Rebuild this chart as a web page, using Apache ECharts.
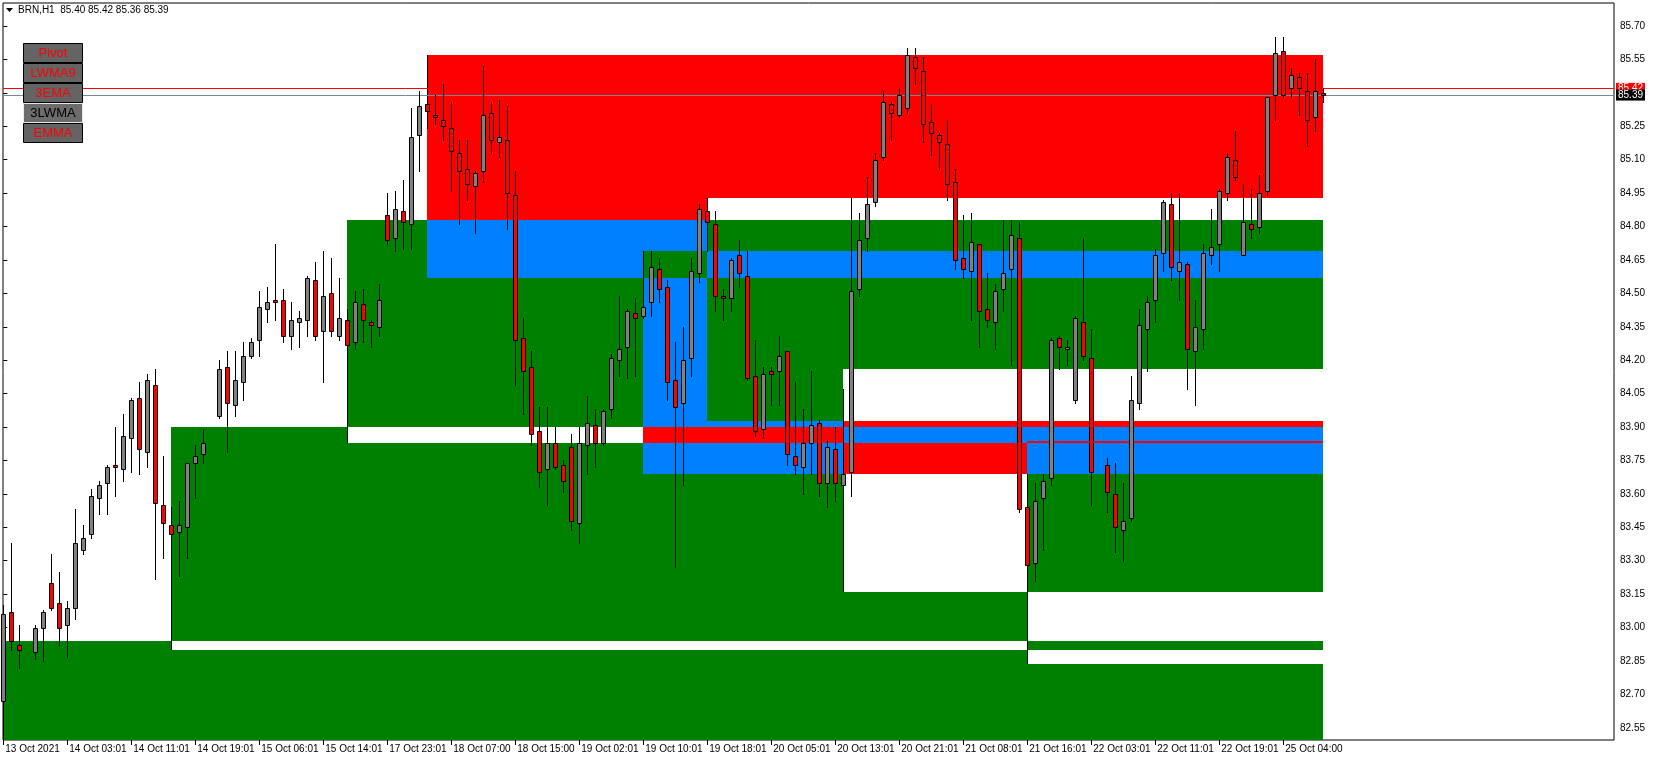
<!DOCTYPE html>
<html><head><meta charset="utf-8">
<script src="https://cdn.jsdelivr.net/npm/echarts@6/dist/echarts.min.js"></script>
<style>html,body{margin:0;padding:0;background:#fff}#c{width:1654px;height:761px}</style>
</head><body><div id="c"></div>
<script>
// ---- tick labels ----
const timeLabels = ["13 Oct 2021","14 Oct 03:01","14 Oct 11:01","14 Oct 19:01","15 Oct 06:01","15 Oct 14:01","17 Oct 23:01","18 Oct 07:00","18 Oct 15:00","19 Oct 02:01","19 Oct 10:01","19 Oct 18:01","20 Oct 05:01","20 Oct 13:01","20 Oct 21:01","21 Oct 08:01","21 Oct 16:01","22 Oct 03:01","22 Oct 11:01","22 Oct 19:01","25 Oct 04:00"];
const labelBars = [0,8,16,24,32,40,48,56,64,72,80,88,96,104,112,120,128,136,144,152,160];
const priceTicks = [82.55,82.70,82.85,83.00,83.15,83.30,83.45,83.60,83.75,83.90,84.05,84.20,84.35,84.50,84.65,84.80,84.95,85.10,85.25,85.40,85.55,85.70];

// ---- candles (H1 BRN), null = no visible bar ----
const opens = [82.67,83.07,82.92,null,82.89,83.00,83.20,83.11,83.01,83.09,83.35,83.42,83.58,83.65,83.73,83.71,83.85,84.03,83.79,84.09,83.55,83.46,83.43,83.45,83.74,83.78,null,83.95,84.17,84.00,84.10,84.22,84.29,84.43,84.47,84.47,84.31,84.37,84.38,84.56,84.33,84.50,84.31,84.38,84.28,84.45,84.37,84.35,84.85,84.75,84.87,84.81,85.21,85.35,85.30,85.28,85.24,85.13,85.06,84.98,85.05,85.31,85.18,85.19,84.94,84.30,84.17,83.88,83.71,83.83,83.73,83.81,83.47,83.82,83.91,83.83,83.98,84.20,84.26,84.41,84.40,84.46,84.61,84.53,84.11,84.01,84.21,84.59,84.87,84.81,84.49,84.48,84.67,84.58,84.13,83.89,84.15,84.15,84.24,83.77,83.72,83.83,83.92,83.65,83.80,83.64,83.70,84.52,84.75,84.91,85.11,85.35,85.30,85.33,85.56,85.50,85.27,85.21,85.17,85.00,84.66,84.60,84.72,84.43,84.37,84.52,84.61,84.75,83.54,83.29,83.58,83.67,84.30,84.25,84.02,84.37,84.21,null,83.73,83.60,83.44,83.49,84.01,84.34,84.47,84.68,84.90,84.60,84.63,84.24,84.34,84.67,84.72,84.95,85.10,84.67,84.81,84.80,84.96,85.39,85.59,85.42,85.47,85.41,85.29,85.40];
const highs = [83.10,83.38,83.01,null,83.01,83.08,83.33,83.25,83.12,83.53,83.46,83.62,83.66,83.73,83.90,83.96,84.03,84.10,84.14,84.16,83.77,83.54,83.57,83.74,83.82,83.89,null,84.20,84.24,84.24,84.28,84.30,84.51,84.53,84.72,84.52,84.46,84.42,84.58,84.64,84.69,84.66,84.57,84.43,84.51,84.52,84.38,84.54,84.95,84.96,85.01,85.33,85.41,85.36,85.39,85.44,85.36,85.19,85.19,85.05,85.52,85.36,85.37,85.34,85.05,84.39,84.24,83.99,83.99,83.90,83.75,83.87,83.90,84.04,83.98,83.98,84.23,84.49,84.43,84.48,84.45,84.69,84.66,84.56,84.28,84.35,84.66,84.90,84.90,84.87,84.52,84.66,84.74,84.69,84.29,84.17,84.17,84.31,84.24,84.10,83.98,84.15,83.93,83.84,83.90,84.07,84.93,84.86,85.02,85.13,85.41,85.36,85.42,85.60,85.60,85.56,85.35,85.22,85.28,85.06,84.85,84.86,84.72,84.59,84.54,84.83,84.83,84.82,83.69,83.65,83.69,84.30,84.31,84.29,84.40,84.75,84.34,null,83.76,83.74,83.65,84.13,84.43,84.49,84.70,84.92,84.95,84.95,84.64,84.47,84.72,84.88,84.97,85.13,85.23,84.99,84.97,85.03,85.38,85.65,85.65,85.51,85.49,85.49,85.55,85.42];
const lows = [82.66,82.90,82.82,null,82.86,82.85,83.08,82.92,82.87,83.04,83.33,83.40,83.51,83.51,83.59,83.66,83.70,83.69,83.72,83.22,83.31,83.38,83.23,83.31,83.58,83.74,null,83.94,83.79,83.95,84.02,84.21,84.22,84.37,84.38,84.28,84.25,84.26,84.31,84.29,84.10,84.31,84.29,84.25,84.25,84.28,84.26,84.31,84.72,84.69,84.70,84.70,85.05,85.24,85.26,85.19,84.96,84.81,84.92,84.77,85.00,85.13,85.11,84.79,84.09,83.96,83.82,83.63,83.55,83.71,83.61,83.44,83.38,83.69,83.72,83.82,83.94,84.13,84.12,84.13,84.39,84.40,84.46,84.02,83.27,83.64,84.13,84.55,84.69,84.42,84.38,84.42,84.53,84.11,83.86,83.85,84.00,84.00,83.73,83.69,83.60,83.69,83.59,83.54,83.57,83.63,83.59,84.49,84.69,84.89,85.10,85.19,85.29,85.31,85.44,85.18,85.12,85.06,84.92,84.61,84.57,84.38,84.26,84.35,84.25,84.42,84.18,83.52,83.27,83.21,83.35,83.64,84.16,84.18,84.01,84.20,83.55,null,83.52,83.34,83.30,83.48,83.98,84.15,84.37,84.60,84.56,84.47,84.07,84.00,84.25,84.63,84.60,84.92,85.01,84.67,84.75,84.77,84.94,85.28,85.38,85.38,85.30,85.16,85.23,85.36];
const closes = [83.06,82.94,82.90,null,83.00,83.07,83.09,83.00,83.09,83.38,83.40,83.59,83.64,83.72,83.72,83.86,84.02,83.80,84.11,83.56,83.47,83.42,83.46,83.74,83.77,83.83,null,84.16,84.01,84.11,84.22,84.28,84.44,84.46,84.46,84.31,84.38,84.39,84.57,84.31,84.49,84.33,84.39,84.27,84.46,84.38,84.36,84.47,84.74,84.88,84.82,85.20,85.34,85.32,85.29,85.25,85.14,85.05,84.99,85.04,85.30,85.19,85.20,84.95,84.29,84.15,83.87,83.70,83.83,83.72,83.66,83.48,83.83,83.92,83.83,83.97,84.21,84.25,84.42,84.39,84.44,84.62,84.52,84.10,83.99,84.20,84.60,84.88,84.82,84.49,84.48,84.65,84.59,84.12,83.88,84.14,84.14,84.22,83.78,83.73,83.83,83.91,83.65,83.81,83.65,83.69,84.51,84.74,84.90,85.10,85.36,85.31,85.39,85.57,85.51,85.26,85.22,85.18,84.99,84.65,84.61,84.73,84.42,84.38,84.51,84.59,84.76,83.53,83.28,83.57,83.66,84.29,84.26,84.26,84.39,84.22,83.70,null,83.61,83.45,83.48,84.02,84.36,84.46,84.67,84.91,84.62,84.64,84.25,84.35,84.68,84.71,84.96,85.11,85.02,84.82,84.79,84.95,85.38,85.58,85.39,85.48,85.42,85.28,85.41,85.39];

// ---- supply / demand zones (drawn XOR-style like the terminal) ----
const zoneStart = [0, 21, 43, 53, 80, 88, 105, 128];
const zoneEnd   = [165,165,165,165,165,165,165,165];
const zoneLow   = [82.30, 82.90, 83.828, 84.57, 83.69, 83.927, 83.16, 82.836];
const zoneHigh  = [82.94, 83.90, 84.83, 85.57, 84.69, 84.93, 84.16, 83.838];
const zoneType  = ['G','G','G','R','R','R','G','G'];

const lastBid = 85.39;
const redLevel = 85.42;
const headerText = "BRN,H1  85.40 85.42 85.36 85.39";
const buttonNames = ["Pivot","LWMA9","3EMA","3LWMA","EMMA"];
const buttonActive = [true,true,true,false,true];

// ---------- build ----------
const candleData = [];
for (let i = 0; i < opens.length; i++) {
  if (opens[i] == null) continue;
  candleData.push([i, opens[i], highs[i], lows[i], closes[i]]);
}
const code = {G:1, R:2, B:3};
const colorOf = {1:'#008000', 2:'#ff0000', 3:'#0080ff'};
const xs = [...new Set(zoneStart.concat(zoneEnd))].sort((a,b)=>a-b);
const ys = [...new Set(zoneLow.concat(zoneHigh))].sort((a,b)=>a-b);
const cellData = [];
for (let a = 0; a < xs.length-1; a++) {
  for (let b = 0; b < ys.length-1; b++) {
    const mx = (xs[a]+xs[a+1])/2, my = (ys[b]+ys[b+1])/2;
    let acc = 0;
    for (let z = 0; z < zoneStart.length; z++) {
      if (mx > zoneStart[z] && mx < zoneEnd[z] && my > zoneLow[z] && my < zoneHigh[z]) acc ^= code[zoneType[z]];
    }
    if (acc) cellData.push([xs[a], xs[a+1], ys[b], ys[b+1], acc]);
  }
}
// anchor lines: demand zone -> from candle high down to zone low; supply -> zone high down to candle low
const anchorData = zoneStart.map((s, z) => zoneType[z] === 'G' ? [s, highs[s], zoneLow[z]] : [s, zoneHigh[z], lows[s]]);

const FONT = 'Liberation Sans';
const chart = echarts.init(document.getElementById('c'), null, {renderer:'canvas'});

function clampY(y, cs){ return Math.max(cs.y, Math.min(cs.y+cs.height, y)); }

const buttonGraphics = [];
buttonNames.forEach((n, k) => {
  const y = 43 + k*20;
  buttonGraphics.push({type:'rect', left:23, top:y, z:100, shape:{width:59, height:19},
    style:{fill: buttonActive[k] ? '#646464' : '#6c6c6c', stroke: buttonActive[k] ? '#000' : '#e8e8e8', lineWidth:1}});
  buttonGraphics.push({type:'text', z:101, x:53, y:y+10.5,
    style:{text:n, fill: buttonActive[k] ? '#ff0000' : '#000', font:'13px "'+FONT+'"', align:'center', verticalAlign:'middle'}});
});

chart.setOption({
  animation:false,
  backgroundColor:'#ffffff',
  grid:{left:3, top:3, width:1611, height:737, show:true, borderColor:'#000', borderWidth:1, backgroundColor:'transparent'},
  xAxis:{type:'value', min:-0.0375, max:201.3375,
    axisLine:{show:false}, splitLine:{show:false},
    axisTick:{show:true, customValues:labelBars, length:5, lineStyle:{color:'#000'}},
    axisLabel:{show:true, customValues:labelBars, formatter:(v)=>timeLabels[labelBars.indexOf(Math.round(v))] || '', align:'left', margin:4, padding:[0,0,0,2], color:'#000', fontSize:10, fontFamily:FONT, hideOverlap:false}},
  yAxis:{type:'value', position:'right', min:82.4953, max:85.8032, scale:true,
    axisLine:{show:false}, splitLine:{show:false},
    axisTick:{show:true, customValues:priceTicks, length:4, lineStyle:{color:'#000'}},
    axisLabel:{show:true, customValues:priceTicks, formatter:(v)=>v.toFixed(2), margin:6, color:'#000', fontSize:10, fontFamily:FONT}},
  graphic:[
    {type:'polygon', z:100, shape:{points:[[6,8],[13,8],[9.5,12]]}, style:{fill:'#000'}},
    {type:'text', z:100, x:18, y:10.5, style:{text:headerText, fill:'#000', font:'10px "'+FONT+'"', verticalAlign:'middle'}}
  ].concat(buttonGraphics),
  series:[
    {type:'custom', name:'zones', z:1, silent:true, data:cellData,
      renderItem:(params, api)=>{
        const cs = params.coordSys;
        const p0 = api.coord([api.value(0), api.value(3)]);
        const p1 = api.coord([api.value(1), api.value(2)]);
        const x0 = Math.round(p0[0]), x1 = Math.round(p1[0]);
        const y0 = Math.round(clampY(p0[1], cs)), y1 = Math.round(clampY(p1[1], cs));
        return {type:'rect', shape:{x:x0, y:y0, width:x1-x0, height:y1-y0}, style:{fill:colorOf[api.value(4)]}};
      }},
    {type:'custom', name:'anchors', z:2, silent:true, data:anchorData,
      renderItem:(params, api)=>{
        const cs = params.coordSys;
        const a = api.coord([api.value(0), api.value(1)]);
        const b = api.coord([api.value(0), api.value(2)]);
        const x = Math.round(a[0]-0.5)+0.5;
        return {type:'line', shape:{x1:x, y1:Math.round(clampY(a[1],cs)), x2:x, y2:Math.round(clampY(b[1],cs))}, style:{stroke:'#000', lineWidth:1}};
      }},
    {type:'line', name:'redLevel', data:[], z:3, silent:true,
      markLine:{silent:true, symbol:['none','none'], animation:false,
        lineStyle:{color:'#ff0000', width:1, type:'solid'},
        label:{show:true, position:'end', distance:2, formatter:redLevel.toFixed(2), color:'#fff', backgroundColor:'#ff0000', padding:[1,2,0,2], fontSize:10, fontFamily:FONT},
        emphasis:{disabled:true},
        data:[{yAxis:redLevel}]}},
    {type:'line', name:'bid', data:[], z:4, silent:true,
      markLine:{silent:true, symbol:['none','none'], animation:false,
        lineStyle:{color:'#778899', width:1, type:'solid'},
        label:{show:true, position:'end', distance:2, formatter:lastBid.toFixed(2), color:'#fff', backgroundColor:'#000', padding:[1,2,0,2], fontSize:10, fontFamily:FONT},
        emphasis:{disabled:true},
        data:[{yAxis:lastBid}]}},
    {type:'custom', name:'candles', z:5, silent:true, data:candleData,
      renderItem:(params, api)=>{
        const i = api.value(0), o = api.value(1), h = api.value(2), l = api.value(3), c = api.value(4);
        const ph = api.coord([i,h]), pl = api.coord([i,l]), po = api.coord([i,o]), pc = api.coord([i,c]);
        const x = Math.round(ph[0]-0.5)+0.5;
        const top = Math.round(Math.min(po[1],pc[1]))+0.5;
        const bot = Math.round(Math.max(po[1],pc[1]))+0.5;
        return {type:'group', children:[
          {type:'line', shape:{x1:x, y1:Math.round(ph[1]), x2:x, y2:Math.round(pl[1])+1}, style:{stroke:'#000', lineWidth:1}},
          {type:'rect', shape:{x:x-2, y:top, width:4, height:Math.max(bot-top,1)}, style:{fill: c>=o ? '#808080' : '#ff0000', stroke:'#000', lineWidth:1}}
        ]};
      }}
  ]
});
</script></body></html>
